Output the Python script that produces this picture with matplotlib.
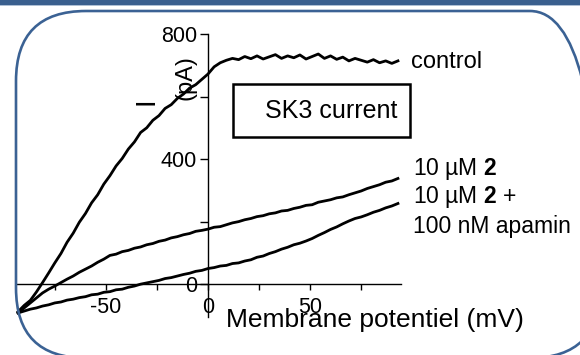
import matplotlib
matplotlib.use("Agg")
import matplotlib.pyplot as plt
from matplotlib.patches import Rectangle, FancyBboxPatch

plt.rcParams['font.family'] = ['Liberation Sans', 'DejaVu Sans']
plt.rcParams['mathtext.fontset'] = 'custom'
plt.rcParams['mathtext.rm'] = 'Liberation Sans'
plt.rcParams['mathtext.bf'] = 'Liberation Sans:bold'
plt.rcParams['axes.unicode_minus'] = False

# membrane potential (mV) of the ramp samples
voltage = [-93, -90, -87, -84, -81, -78, -75, -72, -69, -66, -63, -60, -57, -54,
           -51, -48, -45, -42, -39, -36, -33, -30, -27, -24, -21, -18, -15, -12,
           -9, -6, -3, 0, 3, 6, 9, 12, 15, 18, 21, 24, 27, 30, 33, 36, 39, 42,
           45, 48, 51, 54, 57, 60, 63, 66, 69, 72, 75, 78, 81, 84, 87, 90, 93]

# current (pA)
control = [-88, -68, -52, -25, 5, 36, 68, 98, 134, 163, 198, 226, 260, 286,
           320, 347, 378, 402, 432, 455, 485, 500, 524, 539, 562, 574, 594, 608,
           627, 638, 655, 672, 695, 708, 716, 722, 718, 728, 721, 730, 720, 727,
           734, 722, 730, 724, 733, 720, 728, 736, 722, 730, 719, 726, 714, 722,
           716, 710, 718, 708, 714, 706, 714]
drug = [-92, -76, -60, -44, -28, -16, -6, 5, 16, 26, 38, 48, 58, 70,
        80, 92, 96, 104, 108, 115, 119, 126, 130, 137, 141, 148, 152, 158,
        162, 169, 172, 176, 182, 184, 190, 196, 200, 206, 210, 216, 219, 225,
        228, 234, 236, 242, 246, 252, 254, 262, 266, 270, 276, 279, 286, 292,
        298, 306, 312, 318, 326, 330, 338]
drug_apamin = [-92, -86, -80, -76, -70, -66, -60, -57, -51, -48, -43, -40, -34, -32,
               -26, -24, -18, -16, -10, -6, 0, 4, 8, 12, 18, 21, 26, 31,
               35, 41, 44, 50, 53, 58, 60, 66, 68, 74, 78, 86, 90, 98,
               104, 112, 118, 126, 131, 138, 146, 156, 165, 175, 183, 193, 202, 210,
               215, 222, 230, 236, 244, 250, 258]

W, H = 580, 355


def fx(x):
    return x / W


def fy(y):
    return 1 - y / H


fig = plt.figure(figsize=(5.8, 3.55), dpi=100)
ax = fig.add_axes([fx(16), fy(317), (401 - 16) / W, (317 - 34) / H])

for cur in (control, drug, drug_apamin):
    ax.plot(voltage, cur, color='black', lw=2.0, clip_on=False)

ax.set_xlim(-94, 94.5)
ax.set_ylim(-105, 800)
ax.spines['left'].set_position(('data', 0))
ax.spines['bottom'].set_position(('data', 0))
ax.spines['top'].set_visible(False)
ax.spines['right'].set_visible(False)
for s in ('left', 'bottom'):
    ax.spines[s].set_linewidth(1.0)

ax.set_yticks([0, 400, 800])
ax.set_yticks([200, 600], minor=True)
ax.set_xticks([-50, 0, 50])
ax.set_xticks([-75, -25, 25, 75], minor=True)
ax.tick_params(axis='y', which='both', direction='out', length=6, width=1.0,
               pad=2, labelsize=15.5)
ax.tick_params(axis='x', which='both', direction='out', length=4, width=1.0,
               pad=5, labelsize=15.5)
ax.set_facecolor('none')

# axis labels
fig.text(fx(375), fy(320), 'Membrane potentiel (mV)', fontsize=19,
         ha='center', va='center')
fig.text(fx(147), fy(101), 'I', fontsize=20, rotation=90,
         ha='center', va='center')
fig.text(fx(185), fy(78), '(pA)', fontsize=17, rotation=90,
         ha='center', va='center')

# title box
fig.add_artist(Rectangle((fx(233), fy(137)), (410 - 233) / W, (137 - 84) / H,
                         transform=fig.transFigure, fill=False,
                         ec='black', lw=1.8))
fig.text(fx(331), fy(111), 'SK3 current', fontsize=18, ha='center', va='center')

# trace labels
fig.text(fx(411), fy(62), 'control', fontsize=17, ha='left', va='center')
fig.text(fx(413), fy(169), r'10 µM $\mathbf{2}$', fontsize=16.5, ha='left', va='center')
fig.text(fx(413), fy(197), r'10 µM $\mathbf{2}$ +', fontsize=16.5, ha='left', va='center')
fig.text(fx(413), fy(226), '100 nM apamin', fontsize=16.5, ha='left', va='center')

# slide decoration
fig.add_artist(Rectangle((0, fy(4.5)), 1, 4.5 / H, transform=fig.transFigure,
                         color='#3a5f8e', lw=0))
fig.add_artist(Rectangle((0, fy(6)), 1, 1.5 / H, transform=fig.transFigure,
                         color='#aebfd4', lw=0))
# rounded frame, in inches (100 px per inch); right side runs past the edge
fig.add_artist(FancyBboxPatch((0.16, -0.03), 5.84, 3.47,
                              boxstyle='round,pad=0,rounding_size=0.70',
                              transform=fig.dpi_scale_trans, fill=False,
                              ec='#3b6294', lw=1.9))

fig.savefig('out.png', dpi=100)
